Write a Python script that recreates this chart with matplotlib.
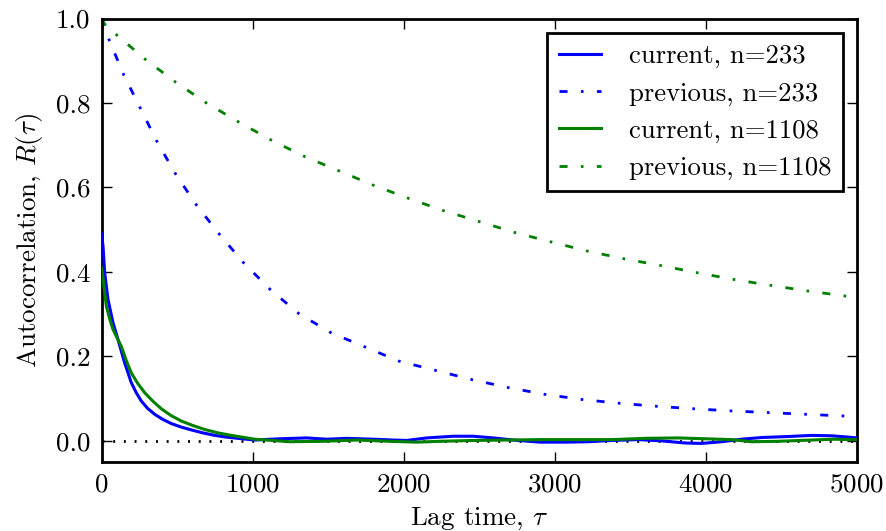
import matplotlib
matplotlib.use("Agg")
import matplotlib.pyplot as plt
import numpy as np

plt.rcParams.update({
    "font.family": "cmr10",
    "mathtext.fontset": "cm",
    "axes.formatter.use_mathtext": True,
    "axes.unicode_minus": False,
    "font.size": 19.5,
    "lines.scale_dashes": False,
})

# ---- data ----
t_prev_233 = [0, 52, 148, 258, 368, 492, 631, 783, 942, 1118, 1307, 1519, 1967, 2209,
              2452, 2694, 2937, 3179, 3428, 3671, 3918, 4165, 4413, 4656, 4909, 5000]
r_prev_233 = [1.0, 0.948, 0.866, 0.787, 0.708, 0.631, 0.557, 0.488, 0.421, 0.358, 0.301,
              0.256, 0.189, 0.167, 0.145, 0.126, 0.110, 0.098, 0.089, 0.082, 0.076, 0.071,
              0.067, 0.063, 0.059, 0.058]

t_prev_1108 = [0, 20, 104, 291, 492, 694, 908, 1124, 1345, 1574, 1801, 2033, 2264, 2502,
               2738, 2976, 3219, 3461, 3702, 3944, 4187, 4431, 4673, 4921, 5000]
r_prev_1108 = [1.0, 0.987, 0.960, 0.903, 0.849, 0.800, 0.755, 0.712, 0.673, 0.639, 0.605,
               0.574, 0.545, 0.519, 0.493, 0.471, 0.449, 0.431, 0.415, 0.398, 0.382, 0.368,
               0.355, 0.343, 0.340]

t_cur_233 = [0, 10, 21, 43, 76, 109, 153, 197, 230, 264, 305, 352, 405, 462, 525, 594,
             670, 749, 825, 903, 1014,
             1181, 1358, 1490, 1623, 1799, 1931, 2020, 2152, 2328, 2461, 2593, 2725,
             2902, 3067, 3222, 3376, 3553, 3707, 3862, 3972, 4105, 4237, 4369, 4523,
             4700, 4832, 4942, 5000]
r_cur_233 = [0.49, 0.461, 0.398, 0.335, 0.280, 0.240, 0.185, 0.138, 0.114, 0.094, 0.077,
             0.063, 0.051, 0.041, 0.033, 0.026, 0.019, 0.013, 0.009, 0.006, 0.002,
             0.005, 0.007, 0.004, 0.006, 0.004, 0.002, 0.001,
             0.007, 0.011, 0.011, 0.007, 0.002, -0.003, -0.003, -0.002, 0.001, 0.003,
             0.000, -0.005, -0.006, -0.002, 0.004, 0.008, 0.010, 0.013, 0.012, 0.009, 0.007]

t_cur_1108 = [0, 10, 32, 55, 76, 103, 131, 162, 197, 240, 286, 340, 396, 460, 528, 600,
              683, 770, 859, 1014, 1247, 1468, 1689,
              1909, 2086, 2240, 2461, 2682, 2902, 3156, 3376, 3597, 3817, 3994, 4171,
              4303, 4479, 4700, 4854, 4942, 5000]
r_cur_1108 = [0.41, 0.385, 0.319, 0.288, 0.264, 0.244, 0.224, 0.192, 0.161, 0.136, 0.114,
              0.094, 0.076, 0.060, 0.047, 0.037, 0.027, 0.019, 0.013, 0.004, -0.002,
              -0.001, 0.002, -0.001, -0.003, -0.001, 0.001, 0.002, 0.003,
              0.003, 0.003, 0.006, 0.007, 0.005, 0.003, -0.002, -0.001, 0.002, 0.004,
              0.003, 0.003]

labels = ["current, n=233", "previous, n=233", "current, n=1108", "previous, n=1108"]
xticks = [0, 1000, 2000, 3000, 4000, 5000]
yticks = [0.0, 0.2, 0.4, 0.6, 0.8, 1.0]

fig = plt.figure(figsize=(8.86, 5.31), dpi=100)
ax = fig.add_axes([101.5 / 886, 1 - 462 / 531, (857 - 101.5) / 886, (462 - 18.5) / 531])

dashdot = (0, (5.8, 9.6, 1.9, 9.6))
ax.plot([0, 5000], [0, 0], color="k", lw=2, linestyle=(0, (1.4, 6.3)), zorder=1)
ax.plot(t_cur_233, r_cur_233, color="b", lw=2.2, label=labels[0], zorder=3)
ax.plot(t_prev_233, r_prev_233, color="b", lw=2, linestyle=dashdot, label=labels[1], zorder=2)
ax.plot(t_cur_1108, r_cur_1108, color="g", lw=2.2, label=labels[2], zorder=3)
ax.plot(t_prev_1108, r_prev_1108, color="g", lw=2, linestyle=dashdot, label=labels[3], zorder=2)

ax.set_xlim(0, 5000)
ax.set_ylim(-0.05, 1.0)
ax.set_xticks(xticks)
ax.set_yticks(yticks)
ax.set_yticklabels(["%.1f" % v for v in yticks])
ax.tick_params(direction="in", length=7, width=1, top=True, right=True, pad=8)
for s in ax.spines.values():
    s.set_linewidth(2)

ax.set_xlabel(r"Lag time, $\tau$", labelpad=6)
ax.set_ylabel(r"Autocorrelation, $R(\tau)$", labelpad=8)

leg = ax.legend(loc="upper right", bbox_to_anchor=(0.9815, 0.9666), borderaxespad=0,
                fancybox=False, framealpha=1, edgecolor="k", handlelength=1.6,
                handletextpad=1.05, borderpad=0.42, labelspacing=0.5, fontsize=19.2)
leg.get_frame().set_linewidth(2)

fig.savefig("out.png", dpi=100)
